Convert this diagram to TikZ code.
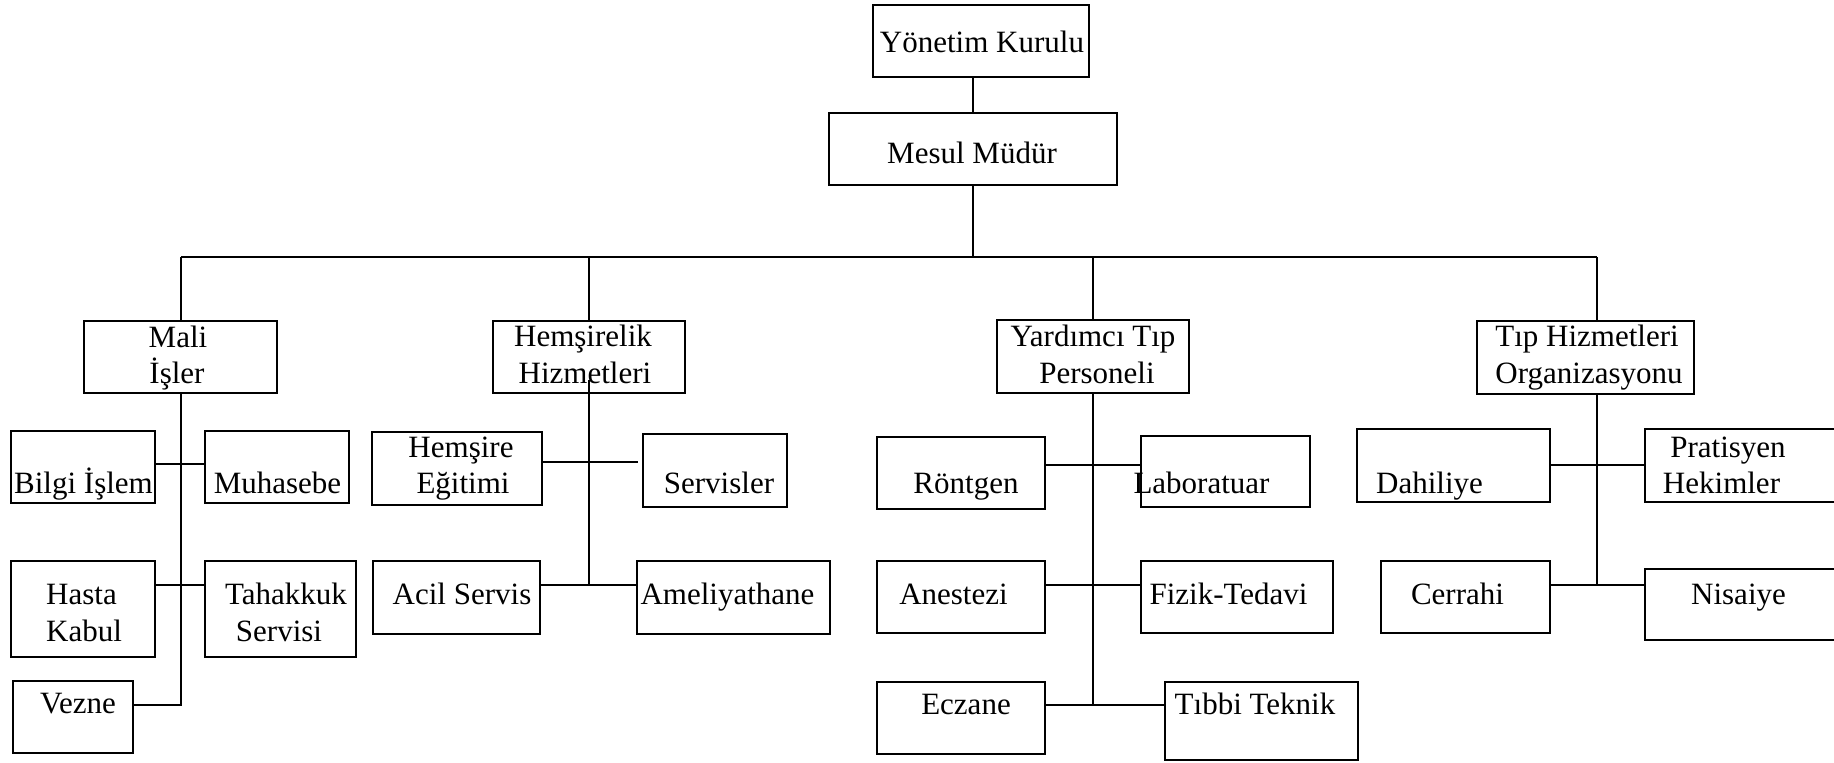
\documentclass[tikz,border=0pt]{standalone}
\usepackage{fontspec}
\setmainfont{Liberation Serif}
\usetikzlibrary{fit}
\begin{document}
\begin{tikzpicture}[x=0.5pt,y=-0.5pt,
  box/.style={draw=black,line width=0.7pt,inner sep=0pt,rectangle},
  txt/.style={inner sep=0pt,anchor=base,font=\fontsize{15.5}{18}\selectfont},
  con/.style={draw=black,line width=0.7pt}]
\useasboundingbox (0,0) rectangle (1834,762);
% boxes
\node[box,fit={(873,5) (1089,77)}] (yk) {};
\node[box,fit={(829,113) (1117,185)}] (mm) {};
\node[box,fit={(84,321) (277,393)}] (mali) {};
\node[box,fit={(493,321) (685,393)}] (hem) {};
\node[box,fit={(997,320) (1189,393)}] (yard) {};
\node[box,fit={(1477,321) (1694,394)}] (tip) {};
\node[box,fit={(11,431) (155,503)}] (bilgi) {};
\node[box,fit={(205,431) (349,503)}] (muh) {};
\node[box,fit={(11,561) (155,657)}] (hasta) {};
\node[box,fit={(205,561) (356,657)}] (tah) {};
\node[box,fit={(13,681) (133,753)}] (vezne) {};
\node[box,fit={(372,432) (542,505)}] (hegt) {};
\node[box,fit={(643,434) (787,507)}] (serv) {};
\node[box,fit={(373,561) (540,634)}] (acil) {};
\node[box,fit={(637,561) (830,634)}] (amel) {};
\node[box,fit={(877,437) (1045,509)}] (ront) {};
\node[box,fit={(1141,436) (1310,507)}] (lab) {};
\node[box,fit={(877,561) (1045,633)}] (anes) {};
\node[box,fit={(1141,561) (1333,633)}] (fizik) {};
\node[box,fit={(877,682) (1045,754)}] (ecz) {};
\node[box,fit={(1165,682) (1358,760)}] (tibbi) {};
\node[box,fit={(1357,429) (1550,502)}] (dah) {};
\node[box,fit={(1645,429) (1840,502)}] (prat) {};
\node[box,fit={(1381,561) (1550,633)}] (cer) {};
\node[box,fit={(1645,569) (1840,640)}] (nis) {};
% texts
\node[txt] (yk-t) at (982,52) {Yönetim Kurulu};
\node[txt] (mm-t) at (972,163) {Mesul Müdür};
\node[txt] (mali-t1) at (178,347) {Mali};
\node[txt] (mali-t2) at (177,383) {İşler};
\node[txt] (hem-t1) at (583,346) {Hemşirelik};
\node[txt] (hem-t2) at (585,383) {Hizmetleri};
\node[txt] (yard-t1) at (1093,346) {Yardımcı Tıp};
\node[txt] (yard-t2) at (1097,383) {Personeli};
\node[txt] (tip-t1) at (1587,346) {Tıp Hizmetleri};
\node[txt] (tip-t2) at (1589,383) {Organizasyonu};
\node[txt] (bilgi-t) at (83.5,493) {Bilgi İşlem};
\node[txt] (muh-t) at (277.5,493) {Muhasebe};
\node[txt] (hasta-t1) at (81.5,604) {Hasta};
\node[txt] (hasta-t2) at (84,641) {Kabul};
\node[txt] (tah-t1) at (286,604) {Tahakkuk};
\node[txt] (tah-t2) at (279,641) {Servisi};
\node[txt] (vezne-t) at (78,713) {Vezne};
\node[txt] (hegt-t1) at (461,457) {Hemşire};
\node[txt] (hegt-t2) at (463,493) {Eğitimi};
\node[txt] (serv-t) at (719,493) {Servisler};
\node[txt] (acil-t) at (462,604) {Acil Servis};
\node[txt] (amel-t) at (727.5,604) {Ameliyathane};
\node[txt] (ront-t) at (966,493) {Röntgen};
\node[txt] (lab-t) at (1201.5,493) {Laboratuar};
\node[txt] (anes-t) at (953.5,604) {Anestezi};
\node[txt] (fizik-t) at (1228.5,604) {Fizik-Tedavi};
\node[txt] (ecz-t) at (966,714) {Eczane};
\node[txt] (tibbi-t) at (1255,714) {Tıbbi Teknik};
\node[txt] (dah-t) at (1429.5,493) {Dahiliye};
\node[txt] (prat-t1) at (1728,457) {Pratisyen};
\node[txt] (prat-t2) at (1721.5,493) {Hekimler};
\node[txt] (cer-t) at (1457.5,604) {Cerrahi};
\node[txt] (nis-t) at (1738.5,604) {Nisaiye};
% junction coordinates
\coordinate (bus) at (973,257);
\coordinate (b1) at (181,257);
\coordinate (b2) at (589,257);
\coordinate (b3) at (1093,257);
\coordinate (b4) at (1597,257);
\coordinate (m1) at (181,464);
\coordinate (m2) at (181,585);
\coordinate (m3) at (181,705);
\coordinate (h0) at (589,380);
\coordinate (h1) at (589,462);
\coordinate (h1e) at (638,462);
\coordinate (h2) at (589,585);
\coordinate (y1) at (1093,465);
\coordinate (y2) at (1093,585);
\coordinate (y3) at (1093,705);
\coordinate (t1) at (1597,465);
\coordinate (t2) at (1597,585);
% connectors
\draw[con] (yk.south -| mm.north) -- (mm.north);
\draw[con] (mm.south) -- (bus);
\draw[con] (b1) -- (b4);
\draw[con] (b1) -- (b1 |- mali.north);
\draw[con] (b2) -- (b2 |- hem.north);
\draw[con] (b3) -- (b3 |- yard.north);
\draw[con] (b4) -- (b4 |- tip.north);
% Mali Isler
\draw[con] (m1 |- mali.south) -- (m3) -- (vezne.east |- m3);
\draw[con] (bilgi.east |- m1) -- (muh.west |- m1);
\draw[con] (hasta.east |- m2) -- (tah.west |- m2);
% Hemsirelik
\draw[con] (h0) -- (h2);
\draw[con] (hegt.east |- h1) -- (h1e);
\draw[con] (acil.east |- h2) -- (amel.west |- h2);
% Yardimci
\draw[con] (y1 |- yard.south) -- (y3);
\draw[con] (ront.east |- y1) -- (lab.west |- y1);
\draw[con] (anes.east |- y2) -- (fizik.west |- y2);
\draw[con] (ecz.east |- y3) -- (tibbi.west |- y3);
% Tip
\draw[con] (t1 |- tip.south) -- (t2);
\draw[con] (dah.east |- t1) -- (prat.west |- t1);
\draw[con] (cer.east |- t2) -- (nis.west |- t2);
\end{tikzpicture}
\end{document}
